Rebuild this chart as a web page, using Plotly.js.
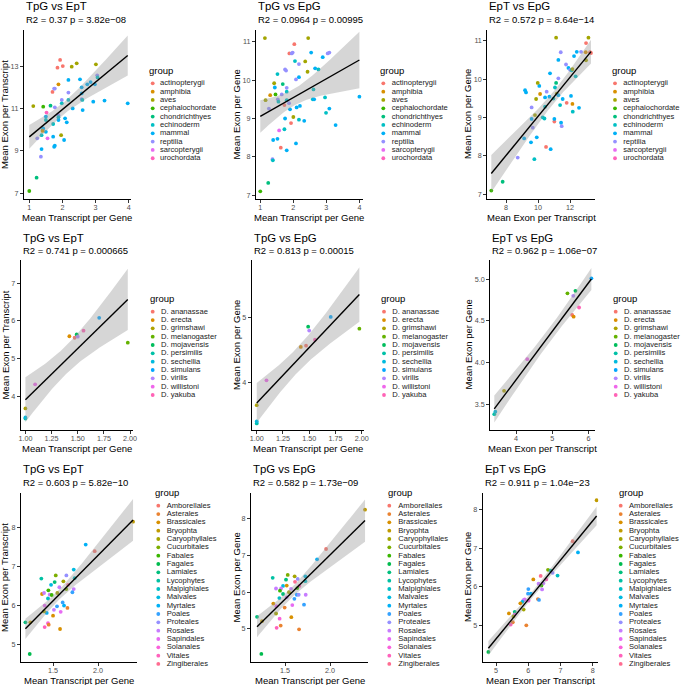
<!DOCTYPE html>
<html>
<head>
<meta charset="utf-8">
<script src="https://cdn.plot.ly/plotly-3.0.1.min.js"></script>
<style>
  body { margin: 0; background: #fff; }
  #chart { width: 685px; height: 685px; }
</style>
</head>
<body>
<div id="chart"></div>
<script>
// group names for each row
var ani_groups = ['actinopterygii','amphibia','aves','cephalochordate','chondrichthyes',
                  'echinoderm','mammal','reptilia','sarcopterygii','urochordata'];
var fly_groups = ['D. ananassae','D. erecta','D. grimshawi','D. melanogaster','D. mojavensis',
                  'D. persimilis','D. sechellia','D. simulans','D. virilis','D. willistoni','D. yakuba'];
var pla_groups = ['Amborellales','Asterales','Brassicales','Bryophta','Caryophyllales','Cucurbitales',
                  'Fabales','Fagales','Lamiales','Lycophytes','Malpighiales','Malvales','Myrtales',
                  'Poales','Proteales','Rosales','Sapindales','Solanales','Vitales','Zingiberales'];

// ggplot hue palettes
var pal10 = ['#F8766D','#D89000','#A3A500','#39B600','#00BF7D','#00BFC4','#00B0F6','#9590FF','#E76BF3','#FF62BC'];
var pal11 = ['#F8766D','#DB8E00','#AEA200','#64B200','#00BD5C','#00C1A7','#00BADE','#00A6FF','#B385FF','#EF67EB','#FF63B6'];
var pal20 = ['#F8766D','#EA8331','#D89000','#C09B00','#A3A500','#7CAE00','#39B600','#00BB4E','#00BF7D','#00C1A3',
             '#00BFC4','#00BAE0','#00B0F6','#35A2FF','#9590FF','#C77CFF','#E76BF3','#FA62DB','#FF62BC','#FF6C91'];

// row 1 : animals (group = index into ani_groups)
var ani_tpg_ept_x = [1.93,1.85,2.01,2.43,2.28,3.01,1.88,1.70,1.75,1.77, 1.12,1.42,1.64,1.98,1.98,1.77,2.18,2.18,2.53,2.58,
                     2.58,2.58,2.60,2.75,2.85,2.98,3.05,3.06,2.93,3.27, 3.97,2.61,2.18,2.31,2.08,2.13,1.88,1.88,1.52,1.50,
                     1.50,1.72,1.88,1.40,1.42,1.50,1.40,1.72,2.05,1.96, 1.37,1.55,1.24,1.37,1.75,1.77,1.35,1.22,1.00];
var ani_tpg_ept_y = [13.32,12.95,13.03,13.16,13.0,13.11,12.16,11.8,11.96,11.96, 11.13,11.1,11.15,11.42,11.26,11.07,11.77,12.37,12.4,12.02,
                     11.73,11.46,11.42,12.16,12.27,12.16,12.59,12.49,11.34,11.39, 11.26,10.94,11.42,11.02,10.55,10.36,10.7,10.6,10.82,10.63,
                     10.47,10.28,10.47,9.99,10.07,9.91,9.95,9.68,9.52,9.75, 9.75,9.6,9.6,9.09,9.2,9.25,8.73,7.73,7.1];
var ani_tpg_ept_g = [0,0,0,2,2,2,1,0,7,7, 2,3,4,7,5,7,7,6,6,6, 6,7,5,6,6,6,7,5,6,6,
                     6,6,5,6,6,6,7,5,9,6, 5,5,6,5,6,6,1,6,6,2, 5,8,7,6,6,6,7,4,3];

var ani_tpg_epg_x = [1.14,2.45,2.03,1.88,1.95,1.98,2.54,3.04,3.09,2.89, 2.05,2.36,1.75,1.78,2.17,2.66,2.76,2.43,1.52,2.17,
                     2.08,1.42,1.68,1.44,1.30,1.46,1.65,1.80,1.80,2.61, 1.16,1.53,1.55,1.80,1.87,2.59,2.63,2.96,4.0,1.26,
                     1.73,1.90,2.10,2.20,3.09,2.99,2.0,1.75,2.17,2.33, 3.28,1.93,1.73,1.57,1.39,1.52,2.08,1.62,1.80,1.37,
                     1.38,1.24,1.0];
var ani_tpg_epg_y = [11.1,11.1,10.94,10.7,10.7,10.72,10.72,10.7,10.72,10.6, 10.5,10.49,10.28,10.25,10.42,10.31,10.28,10.22,10.16,10.08,
                     10.02,9.92,9.9,9.81,9.61,9.63,9.63,9.7,9.8,9.76, 9.48,9.5,9.44,9.48,9.4,9.5,9.5,9.55,9.57,9.26,
                     9.35,9.24,9.29,9.33,9.26,9.15,9.04,9.0,8.97,8.94, 8.83,8.88,8.72,8.69,8.44,8.47,8.35,8.24,8.17,7.94,
                     7.91,7.32,7.1];
var ani_tpg_epg_g = [2,2,0,0,7,7,6,7,7,6, 5,2,7,7,7,6,5,2,5,6, 7,2,4,6,1,3,7,5,7,5, 2,7,5,5,7,5,6,5,6,7,
                     0,6,6,6,6,5,2,6,5,6, 6,0,5,8,6,6,6,0,6,7, 5,4,3];

var ani_ept_epg_x = [7.08,7.79,8.73,9.77,9.56,9.92,9.13,10.5,10.79,9.67, 9.6,10.29,10.4,11.02,11.02,11.44,11.48,9.6,9.81,10.44,
                     11.38,11.79,12.15,12.17,12.56,9.88,9.25,9.19,10.13,10.44, 10.71,10.96,11.17,11.27,11.54,12.06,10.54,10.08,9.98,11.13,
                     11.06,11.27,10.75,11.75,11.9,12.0,12.1,12.15,12.35,11.27, 12.25,11.42,12.42,12.69,13.0,12.98,13.25,13.31,13.15,11.13,
                     13.0];
var ani_ept_epg_y = [7.09,7.32,7.95,7.91,8.35,8.48,8.45,8.23,8.17,8.73, 8.96,9.0,8.97,8.89,8.96,8.86,8.77,9.26,9.06,9.28,
                     9.32,9.38,9.35,9.15,9.25,9.48,9.65,9.71,9.61,9.52, 9.54,9.49,9.62,9.58,9.48,9.56,9.67,9.82,9.9,9.9,
                     9.78,10.02,10.15,10.38,10.29,10.24,10.23,10.26,10.07,10.5, 10.6,10.7,10.71,10.71,10.94,10.7,10.7,10.68,11.08,11.08,
                     10.49];
var ani_ept_epg_g = [3,4,7,5,6,6,6,0,6,7, 6,5,5,0,6,6,7,7,2,5, 5,0,1,5,6,2,6,6,1,6,
                     6,5,2,6,6,6,7,6,2,4, 5,7,6,7,6,7,5,2,5,6, 6,7,6,7,0,1,0,0,2,2, 2];

// row 2 : Drosophila, one value per species (same order as fly_groups)
var fly_tpg = [1.47,1.42,1.0,1.978,1.49,1.0,1.0,1.705,1.50,1.093,1.555];
var fly_ept = [5.55,5.59,3.67,5.42,5.64,3.40,3.43,6.08,5.58,4.31,5.74];
var fly_epg = [4.57,4.55,3.66,4.83,4.86,3.38,3.41,5.01,4.80,4.04,4.66];
var fly_g = [0,1,2,3,4,5,6,7,8,9,10];

// row 3 : plants (group = index into pla_groups)
var pla_tpg_ept_x = [2.389,1.963,1.863,1.73,1.37,1.53,1.648,1.74,1.518,1.615, 1.478,1.667,1.57,1.448,1.648,1.73,1.378,1.40,1.463,1.485,
                     1.548,1.715,1.444,1.407,1.607,1.622,1.544,1.66,1.51,1.585, 1.43,1.40,1.5,1.193,1.248,1.444,1.452,1.407,1.578,1.241];
var pla_tpg_ept_y = [8.145,7.39,7.56,6.92,6.69,6.77,6.77,6.70,6.60,6.62, 6.53,6.53,6.47,6.39,6.42,6.42,6.295,6.32,6.28,6.27,
                     6.32,6.34,6.18,6.0,6.08,6.0,5.98,5.94,5.89,5.84, 5.81,5.85,5.74,5.57,5.57,5.55,5.51,5.45,5.40,4.76];
var pla_tpg_ept_g = [3,0,12,11,9,5,14,10,8,4, 11,19,15,6,5,15,2,15,15,6, 4,13,10,16,13,12,13,1,15,16, 12,4,2,8,3,17,1,18,2,7];

var pla_tpg_epg_x = [2.389,1.956,1.856,1.726,1.726,1.363,1.53,1.607,1.641,1.511, 1.611,1.659,1.478,1.519,1.40,1.456,1.567,1.637,1.444,1.544,
                     1.478,1.63,1.652,1.73,1.437,1.519,1.604,1.37,1.404,1.581, 1.496,1.711,1.40,1.189,1.244,1.57,1.44,1.452,1.407,1.656,
                     1.237];
var pla_tpg_epg_y = [8.245,7.175,6.894,6.43,6.30,6.39,6.47,6.43,6.36,6.34, 6.28,6.17,6.17,6.18,6.10,6.10,6.09,6.11,6.04,6.0,
                     5.95,5.93,5.93,5.93,5.84,5.86,5.82,5.69,5.62,5.65, 5.58,5.66,5.42,5.33,5.21,5.32,5.28,5.09,5.03,4.99,
                     4.32];
var pla_tpg_epg_g = [3,0,12,11,10,9,5,4,14,8, 19,18,11,2,15,15,15,6,6,4, 8,13,14,15,10,15,13,2,16,16, 1,13,4,8,3,2,17,1,18,1, 7];

var pla_ept_epg_x = [8.123,7.38,7.544,6.91,6.613,6.696,6.758,6.386,6.158,6.56, 6.468,6.32,6.41,6.43,6.003,5.993,6.086,5.89,5.85,6.01,
                     5.82,6.30,6.334,5.755,5.858,5.58,5.40,5.58,5.54,5.52, 5.455,5.94,4.762];
var pla_ept_epg_y = [8.242,7.18,6.89,6.29,6.44,6.42,6.36,6.28,6.19,6.19, 6.09,6.08,6.03,5.93,5.94,5.82,5.82,5.67,5.65,5.64,
                     5.61,5.68,5.66,5.57,5.41,5.35,5.31,5.28,5.23,5.08, 5.02,5.0,4.31];
var pla_ept_epg_g = [3,0,12,10,5,9,14,19,2,18, 15,15,6,15,13,13,12,16,15,17, 11,1,13,2,4,8,2,16,4,1, 18,1,7];

// texts
var titles = ['TpG vs EpT','TpG vs EpG','EpT vs EpG'];
var x_titles = ['Mean Transcript per Gene','Mean Transcript per Gene','Mean Exon per Transcript'];
var y_titles = ['Mean Exon per Transcript','Mean Exon per Gene','Mean Exon per Gene'];
var stats = ['R2 = 0.37 p = 3.82e\u221208','R2 = 0.0964 p = 0.00995','R2 = 0.572 p = 8.64e\u221214',
             'R2 = 0.741 p = 0.000665','R2 = 0.813 p = 0.00015','R2 = 0.962 p = 1.06e\u221207',
             'R2 = 0.603 p = 5.82e\u221210','R2 = 0.582 p = 1.73e\u221209','R2 = 0.911 p = 1.04e\u221223'];

// tick values / labels
var x_ticks = [[1,2,3,4],[1,2,3,4],[8,10,12],
               [1,1.25,1.5,1.75,2],[1,1.25,1.5,1.75,2],[4,5,6],
               [1.5,2],[1.5,2],[5,6,7,8]];
var x_ticklabels = [['1','2','3','4'],['1','2','3','4'],['8','10','12'],
                    ['1.00','1.25','1.50','1.75','2.00'],['1.00','1.25','1.50','1.75','2.00'],['4','5','6'],
                    ['1.5','2.0'],['1.5','2.0'],['5','6','7','8']];
var y_ticks = [[7,9,11,13],[7,8,9,10,11],[7,8,9,10,11],
               [4,5,6,7],[4,5],[3.5,4,4.5,5],
               [5,6,7,8],[5,6,7,8],[5,6,7,8]];
var y_ticklabels = [['7','9','11','13'],['7','8','9','10','11'],['7','8','9','10','11'],
                    ['4','5','6','7'],['4','5'],['3.5','4.0','4.5','5.0'],
                    ['5','6','7','8'],['5','6','7','8'],['5','6','7','8']];

// ---- layout (pixels) ----
// plot box [left, top, right, bottom]
var boxes = [[24,30,130.7,199],[256,30,362.7,199],[487.3,30,595,199],
             [20.7,260,132.7,430],[251.7,260,364.3,430],[490.3,260,595,430],
             [21,493,137,662],[251,493,368,662],[482.7,493,598.3,662]];
var x_ranges = [[0.84,4.06],[0.87,4.10],[6.83,13.56],
                [0.955,2.025],[0.952,2.025],[3.29,6.18],
                [1.144,2.433],[1.122,2.422],[4.586,8.175]];
var y_ranges = [[6.72,14.74],[6.90,11.31],[6.87,11.28],
                [3.095,7.62],[3.28,5.88],[3.19,5.23],
                [4.556,8.878],[4.10,8.698],[4.05,8.43]];
// legend: [title x, title y, marker x, text x, first entry y]
var legpos = [[147.3,70.7,152.7,160,83.3],[378.3,70.7,383.3,391.7,83.3],[610,70.7,615,623.3,83.3],
              [147.7,298.3,152.7,161,311.7],[379,298.3,384,392.3,311.7],[610.7,298.3,615.7,624,311.7],
              [153.3,492.3,158.3,166.7,505.7],[385.7,492.3,389.3,398.3,505.7],[616.7,492.3,620.7,629,505.7]];
var rowy = [[6,19.5,218],[237.5,251,448.5],[468.5,482.5,680.5]]; // title, subtitle, x title
var ytitle_x = [4.5,236,467.5];
var legstep = 8.33;

var W = 685, H = 685;
var FONT = 'Liberation Sans, Arial, sans-serif';

var panels = [
  [ani_tpg_ept_x, ani_tpg_ept_y, ani_tpg_ept_g, ani_groups, pal10],
  [ani_tpg_epg_x, ani_tpg_epg_y, ani_tpg_epg_g, ani_groups, pal10],
  [ani_ept_epg_x, ani_ept_epg_y, ani_ept_epg_g, ani_groups, pal10],
  [fly_tpg, fly_ept, fly_g, fly_groups, pal11],
  [fly_tpg, fly_epg, fly_g, fly_groups, pal11],
  [fly_ept, fly_epg, fly_g, fly_groups, pal11],
  [pla_tpg_ept_x, pla_tpg_ept_y, pla_tpg_ept_g, pla_groups, pal20],
  [pla_tpg_epg_x, pla_tpg_epg_y, pla_tpg_epg_g, pla_groups, pal20],
  [pla_ept_epg_x, pla_ept_epg_y, pla_ept_epg_g, pla_groups, pal20]
];

// t quantile (0.975) via Cornish-Fisher expansion
function tq(df){
  var z = 1.959964;
  var g1 = (Math.pow(z,3)+z)/4;
  var g2 = (5*Math.pow(z,5)+16*Math.pow(z,3)+3*z)/96;
  var g3 = (3*Math.pow(z,7)+19*Math.pow(z,5)+17*Math.pow(z,3)-15*z)/384;
  var g4 = (79*Math.pow(z,9)+776*Math.pow(z,7)+1482*Math.pow(z,5)-1920*Math.pow(z,3)-945*z)/92160;
  return z + g1/df + g2/(df*df) + g3/Math.pow(df,3) + g4/Math.pow(df,4);
}

// lm fit + 95% confidence band like geom_smooth(method='lm')
function smooth(xs, ys){
  var n = xs.length, mx = 0, my = 0;
  for (var i=0;i<n;i++){ mx += xs[i]; my += ys[i]; }
  mx /= n; my /= n;
  var sxx = 0, sxy = 0;
  for (i=0;i<n;i++){ sxx += (xs[i]-mx)*(xs[i]-mx); sxy += (xs[i]-mx)*(ys[i]-my); }
  var b = sxy/sxx, a = my - b*mx;
  var sse = 0;
  for (i=0;i<n;i++){ var r = ys[i]-a-b*xs[i]; sse += r*r; }
  var s = Math.sqrt(sse/(n-2)), t = tq(n-2);
  var lo = Math.min.apply(null, xs), hi = Math.max.apply(null, xs);
  var gx = [], fit = [], up = [], dn = [];
  for (i=0;i<80;i++){
    var xx = lo + (hi-lo)*i/79;
    var yh = a + b*xx;
    var se = s*Math.sqrt(1/n + (xx-mx)*(xx-mx)/sxx);
    gx.push(xx); fit.push(yh); up.push(yh + t*se); dn.push(yh - t*se);
  }
  return {x: gx, fit: fit, up: up, dn: dn};
}

var data = [], annotations = [];
var layout = {
  width: W, height: H,
  margin: {l:0, r:0, t:0, b:0, pad:0},
  showlegend: false,
  paper_bgcolor: 'white',
  plot_bgcolor: 'rgba(0,0,0,0)',
  font: {family: FONT, color: '#000'},
  // overlay axes in pixel units, used for the hand-built legends
  xaxis10: {domain:[0,1], range:[0,W], visible:false, fixedrange:true, anchor:'y10'},
  yaxis10: {domain:[0,1], range:[H,0], visible:false, fixedrange:true, anchor:'x10'}
};

for (var k=0;k<9;k++){
  var p = panels[k], xs = p[0], ys = p[1], gs = p[2], names = p[3], pal = p[4];
  var xid = k==0 ? 'x' : 'x'+(k+1), yid = k==0 ? 'y' : 'y'+(k+1);
  var box = boxes[k], col = k%3, row = Math.floor(k/3);

  var axbase = {
    showline:true, linecolor:'#000', linewidth:1, showgrid:false, zeroline:false,
    ticks:'outside', ticklen:3, tickwidth:1, tickcolor:'#333',
    tickfont:{size:7.2, color:'#4D4D4D', family:FONT}, fixedrange:true
  };
  layout['xaxis'+(k==0?'':k+1)] = Object.assign({}, axbase, {
    domain:[box[0]/W, box[2]/W], anchor:yid, range:x_ranges[k],
    tickmode:'array', tickvals:x_ticks[k], ticktext:x_ticklabels[k], ticklabelstandoff:-2
  });
  layout['yaxis'+(k==0?'':k+1)] = Object.assign({}, axbase, {
    domain:[1-box[3]/H, 1-box[1]/H], anchor:xid, range:y_ranges[k],
    tickmode:'array', tickvals:y_ticks[k], ticktext:y_ticklabels[k]
  });

  // points
  data.push({
    type:'scatter', mode:'markers', x:xs, y:ys, xaxis:xid, yaxis:yid,
    marker:{size:3.8, color:gs.map(function(g){ return pal[g]; })},
    hoverinfo:'skip'
  });

  // confidence band + regression line
  var sm = smooth(xs, ys);
  data.push({
    type:'scatter', mode:'lines', xaxis:xid, yaxis:yid,
    x: sm.x.concat(sm.x.slice().reverse()),
    y: sm.up.concat(sm.dn.slice().reverse()),
    fill:'toself', fillcolor:'rgba(153,153,153,0.4)', line:{width:0}, hoverinfo:'skip'
  });
  data.push({
    type:'scatter', mode:'lines', xaxis:xid, yaxis:yid, x:sm.x, y:sm.fit,
    line:{color:'#000', width:1.4}, hoverinfo:'skip'
  });

  // legend
  var lp = legpos[k];
  var ly = names.map(function(_, i){ return lp[4] + i*legstep; });
  data.push({
    type:'scatter', mode:'markers', xaxis:'x10', yaxis:'y10',
    x: names.map(function(){ return lp[2]; }), y: ly,
    marker:{size:3.8, color:pal.slice(0, names.length)}, hoverinfo:'skip'
  });
  data.push({
    type:'scatter', mode:'text', xaxis:'x10', yaxis:'y10',
    x: names.map(function(){ return lp[3]; }), y: ly, text: names,
    textposition:'middle right', textfont:{size:7.6, color:'#1A1A1A', family:FONT},
    hoverinfo:'skip'
  });
  annotations.push({xref:'paper', yref:'paper', x:lp[0]/W, y:1-lp[1]/H, xanchor:'left', yanchor:'middle',
    text:'group', showarrow:false, font:{size:9.5}});

  // titles
  annotations.push({xref:'paper', yref:'paper', x:box[0]/W, y:1-rowy[row][0]/H, xanchor:'left', yanchor:'middle',
    text:titles[col], showarrow:false, font:{size:11.4}});
  annotations.push({xref:'paper', yref:'paper', x:box[0]/W, y:1-rowy[row][1]/H, xanchor:'left', yanchor:'middle',
    text:stats[k], showarrow:false, font:{size:9.5}});
  annotations.push({xref:'paper', yref:'paper', x:(box[0]+box[2])/2/W, y:1-rowy[row][2]/H, xanchor:'center', yanchor:'middle',
    text:x_titles[col], showarrow:false, font:{size:9.5}});
  annotations.push({xref:'paper', yref:'paper', x:ytitle_x[col]/W, y:1-(box[1]+box[3])/2/H, xanchor:'center', yanchor:'middle',
    text:y_titles[col], textangle:-90, showarrow:false, font:{size:9.5}});
}

layout.annotations = annotations;

Plotly.newPlot('chart', data, layout, {displayModeBar:false, staticPlot:true});
</script>
</body>
</html>
